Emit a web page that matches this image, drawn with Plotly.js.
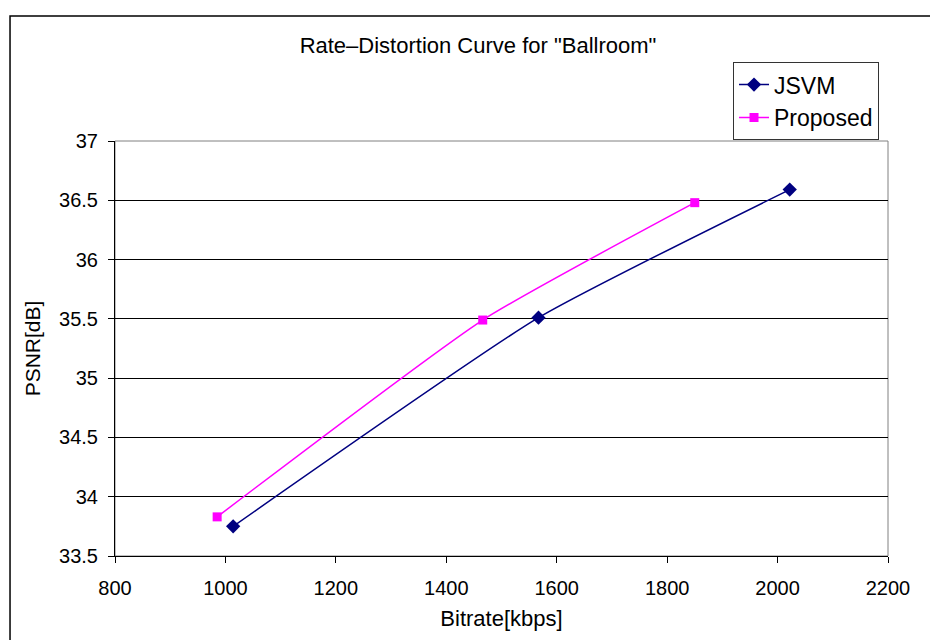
<!DOCTYPE html>
<html>
<head>
<meta charset="utf-8">
<script src="https://cdn.plot.ly/plotly-3.0.1.min.js"></script>
<style>body{margin:0;background:#fff;}</style>
</head>
<body>
<div id="chart" style="width:930px;height:640px;"></div>
<script>
const jsvmBitrate = [1014, 1567, 2022];
const jsvmPsnr = [33.75, 35.51, 36.59];
const proposedBitrate = [985, 1466, 1850];
const proposedPsnr = [33.83, 35.49, 36.48];
const xTicks = [800, 1000, 1200, 1400, 1600, 1800, 2000, 2200];
const yTicks = [33.5, 34, 34.5, 35, 35.5, 36, 36.5, 37];

const traces = [
  {x: jsvmBitrate, y: jsvmPsnr, name: 'JSVM', mode: 'lines+markers',
   line: {color: '#000080', width: 1.5, shape: 'spline', smoothing: 0.5},
   marker: {symbol: 'diamond', size: 11, color: '#000080'}},
  {x: proposedBitrate, y: proposedPsnr, name: 'Proposed', mode: 'lines+markers',
   line: {color: '#FF00FF', width: 1.5, shape: 'spline', smoothing: 0.5},
   marker: {symbol: 'square', size: 9, color: '#FF00FF'}}
];

const font = 'Liberation Sans, Arial, sans-serif';
const layout = {
  width: 930, height: 640,
  margin: {l: 115, r: 42, t: 141, b: 84},
  paper_bgcolor: '#fff', plot_bgcolor: '#fff',
  font: {family: font, color: '#000', size: 19},
  title: {text: 'Rate\u2013Distortion Curve for "Ballroom"', font: {family: font, size: 22, color: '#000'},
          x: 0.4696, xref: 'paper', xanchor: 'center', y: 0.93, yref: 'container', yanchor: 'middle'},
  xaxis: {range: [800, 2200], tickvals: xTicks, ticktext: xTicks.map(String),
          showgrid: false, zeroline: false, showline: true, linecolor: '#000', linewidth: 1,
          ticks: 'outside', ticklen: 6, tickcolor: '#000', ticklabelstandoff: 8,
          tickfont: {family: font, size: 20},
          title: {text: 'Bitrate[kbps]', font: {family: font, size: 22}, standoff: 12}},
  yaxis: {range: [33.5, 37], tickvals: yTicks, ticktext: yTicks.map(String),
          showgrid: true, gridcolor: '#000', gridwidth: 1, zeroline: false,
          showline: true, linecolor: '#000', linewidth: 1,
          ticks: 'outside', ticklen: 6, tickcolor: '#000', ticklabelstandoff: 6,
          tickfont: {family: font, size: 20},
          title: {text: 'PSNR[dB]', font: {family: font, size: 21}, standoff: 12}},
  legend: {x: 0.7995, y: 1.19, xanchor: 'left', yanchor: 'top', bgcolor: '#fff',
           bordercolor: '#333', borderwidth: 1, font: {family: font, size: 23}, tracegroupgap: 0},
  showlegend: true,
  shapes: [
    {type: 'rect', xref: 'paper', yref: 'paper', x0: 0, x1: 1, y0: 0, y1: 1,
     line: {color: '#808080', width: 1}, layer: 'below'},
    {type: 'rect', xref: 'paper', yref: 'paper', x0: -0.1358, x1: 1.2, y0: -0.3, y1: 1.3012,
     line: {color: '#000', width: 1.5}, layer: 'below'}
  ]
};

Plotly.newPlot('chart', traces, layout, {displayModeBar: false, staticPlot: true});
</script>
</body>
</html>
